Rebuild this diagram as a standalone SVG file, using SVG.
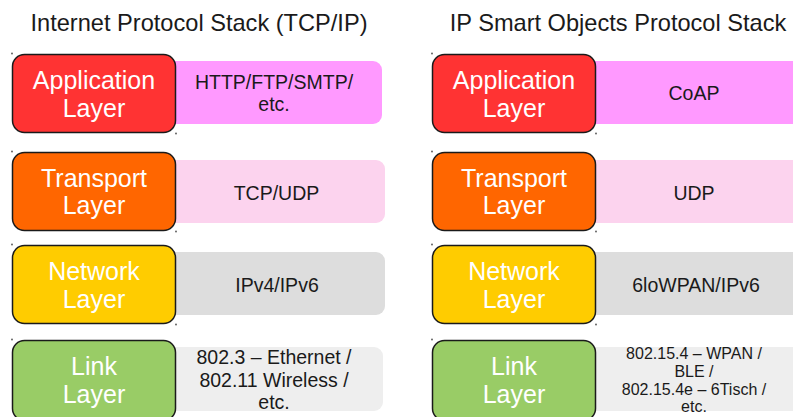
<svg xmlns="http://www.w3.org/2000/svg" width="793" height="417" viewBox="0 0 793 417">
<style>
.title{font-family:"Liberation Sans",Arial,sans-serif;font-size:23.6px;fill:#1a1a1a;text-anchor:middle}
.lay{font-family:"Liberation Sans",Arial,sans-serif;font-size:25px;fill:#ffffff;text-anchor:middle}
.pt{font-family:"Liberation Sans",Arial,sans-serif;font-size:19.5px;fill:#1a1a1a;text-anchor:middle}
.ps{font-family:"Liberation Sans",Arial,sans-serif;font-size:16px;fill:#1a1a1a;text-anchor:middle}
.box{stroke:#1a1a1a;stroke-width:1.5}
.dot{fill:#555555}
</style>
<rect width="793" height="417" fill="#ffffff"/>
<text class="title" x="199" y="31">Internet Protocol Stack (TCP/IP)</text>
<text class="title" x="618" y="31">IP Smart Objects Protocol Stack</text>

<g id="connectors"></g>

<!-- Left column -->
<g id="l-app-proto"><rect x="160" y="61" width="222" height="63" rx="9" fill="#FF99FF"/>
<text class="pt" x="274" y="89">HTTP/FTP/SMTP/</text><text class="pt" x="274" y="111">etc.</text></g>
<g id="l-app"><rect class="box" x="12.5" y="54.5" width="163" height="78" rx="12" fill="#FF3333"/>
<text class="lay" x="94" y="88.5">Application</text><text class="lay" x="94" y="116.5">Layer</text>
<circle class="dot" cx="12" cy="53.5" r="0.9"/><circle class="dot" cx="176" cy="133.5" r="0.9"/></g>

<g id="l-tr-proto"><rect x="160" y="160" width="225" height="63" rx="9" fill="#FCD3EE"/>
<text class="pt" x="276.5" y="200">TCP/UDP</text></g>
<g id="l-tr"><rect class="box" x="12.5" y="152.5" width="163" height="78" rx="12" fill="#FF6600"/>
<text class="lay" x="94" y="186.5">Transport</text><text class="lay" x="94" y="214">Layer</text>
<circle class="dot" cx="12" cy="151.5" r="0.9"/><circle class="dot" cx="176" cy="231.5" r="0.9"/></g>

<g id="l-net-proto"><rect x="160" y="252" width="225" height="63" rx="9" fill="#DDDDDD"/>
<text class="pt" x="277" y="292">IPv4/IPv6</text></g>
<g id="l-net"><rect class="box" x="12.5" y="245.5" width="163" height="78" rx="12" fill="#FFCC00"/>
<text class="lay" x="94" y="279.5">Network</text><text class="lay" x="94" y="307.5">Layer</text>
<circle class="dot" cx="12" cy="244.5" r="0.9"/><circle class="dot" cx="176" cy="324.5" r="0.9"/></g>

<g id="l-link-proto"><rect x="160" y="347" width="223" height="64" rx="9" fill="#EEEEEE"/>
<text class="pt" x="274" y="364">802.3 – Ethernet /</text><text class="pt" x="274" y="386.5">802.11 Wireless /</text><text class="pt" x="274" y="408.5">etc.</text></g>
<g id="l-link"><rect class="box" x="12.5" y="340.5" width="163" height="80" rx="12" fill="#99CC66"/>
<text class="lay" x="94" y="375">Link</text><text class="lay" x="94" y="402.5">Layer</text>
<circle class="dot" cx="12" cy="339.5" r="0.9"/></g>

<!-- Right column -->
<g id="r-app-proto"><rect x="590" y="61" width="210" height="63" fill="#FF99FF"/>
<text class="pt" x="694" y="100">CoAP</text></g>
<g id="r-app"><rect class="box" x="432.5" y="54.5" width="163" height="78" rx="12" fill="#FF3333"/>
<text class="lay" x="514" y="88.5">Application</text><text class="lay" x="514" y="116.5">Layer</text>
<circle class="dot" cx="432" cy="53.5" r="0.9"/><circle class="dot" cx="596" cy="133.5" r="0.9"/></g>

<g id="r-tr-proto"><rect x="590" y="160" width="210" height="63" fill="#FCD3EE"/>
<text class="pt" x="694" y="200">UDP</text></g>
<g id="r-tr"><rect class="box" x="432.5" y="152.5" width="163" height="78" rx="12" fill="#FF6600"/>
<text class="lay" x="514" y="186.5">Transport</text><text class="lay" x="514" y="214">Layer</text>
<circle class="dot" cx="432" cy="151.5" r="0.9"/><circle class="dot" cx="596" cy="231.5" r="0.9"/></g>

<g id="r-net-proto"><rect x="590" y="252" width="210" height="63" fill="#DDDDDD"/>
<text class="pt" x="696" y="292">6loWPAN/IPv6</text></g>
<g id="r-net"><rect class="box" x="432.5" y="245.5" width="163" height="78" rx="12" fill="#FFCC00"/>
<text class="lay" x="514" y="279.5">Network</text><text class="lay" x="514" y="307.5">Layer</text>
<circle class="dot" cx="432" cy="244.5" r="0.9"/><circle class="dot" cx="596" cy="324.5" r="0.9"/></g>

<g id="r-link-proto"><rect x="590" y="347" width="210" height="64" fill="#EEEEEE"/>
<text class="ps" x="694" y="358.5">802.15.4 – WPAN /</text><text class="ps" x="694" y="376.5">BLE /</text><text class="ps" x="694" y="394.5">802.15.4e – 6Tisch /</text><text class="ps" x="694" y="412">etc.</text></g>
<g id="r-link"><rect class="box" x="432.5" y="340.5" width="163" height="80" rx="12" fill="#99CC66"/>
<text class="lay" x="514" y="375">Link</text><text class="lay" x="514" y="402.5">Layer</text>
<circle class="dot" cx="432" cy="339.5" r="0.9"/></g>
</svg>
